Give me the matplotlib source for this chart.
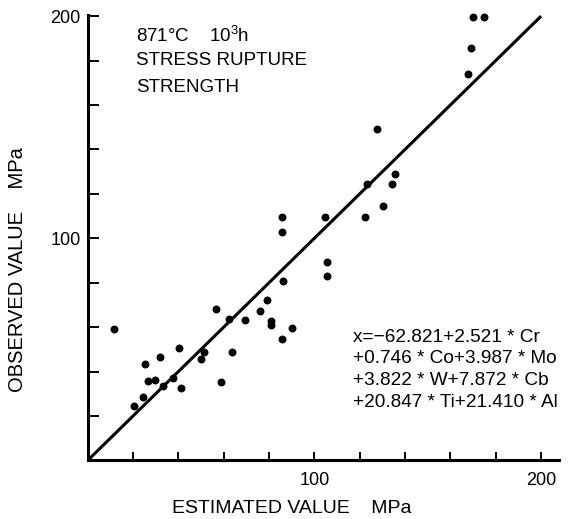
import matplotlib
matplotlib.use("Agg")
import matplotlib.pyplot as plt

plt.rcParams['font.family'] = ['Liberation Sans', 'DejaVu Sans']
plt.rcParams['mathtext.fontset'] = 'custom'
plt.rcParams['mathtext.rm'] = 'Liberation Sans'
plt.rcParams['mathtext.it'] = 'Liberation Sans'

# estimated vs observed stress rupture strength (MPa)
estimated = [170.0, 174.8, 169.2, 167.6, 127.7, 135.7, 123.1, 134.4, 130.3, 122.5,
             85.6, 85.8, 104.8, 105.4, 105.7, 86.1, 79.2, 76.0, 80.7, 80.7,
             90.3, 85.6, 11.8, 56.7, 62.2, 69.4, 40.3, 49.8, 51.4, 63.8,
             25.2, 32.0, 26.8, 29.8, 33.1, 37.5, 41.3, 58.7, 24.6, 20.2]
observed = [199.5, 199.5, 185.5, 174.1, 149.1, 129.1, 124.2, 124.2, 114.4, 109.6,
            109.4, 102.6, 109.4, 89.5, 82.9, 80.9, 72.0, 67.1, 62.7, 60.8,
            59.6, 54.8, 59.3, 68.0, 63.6, 63.0, 50.8, 45.8, 48.8, 48.6,
            43.2, 46.7, 35.7, 36.4, 33.7, 37.2, 32.5, 35.1, 28.5, 24.6]

fit_line = [0, 200]
tick_values = list(range(20, 201, 20))
tick_labels = ['' if v not in (100, 200) else str(v) for v in tick_values]

eq_lines = ['x=\u221262.821+2.521 * Cr',
            '+0.746 * Co+3.987 * Mo',
            '+3.822 * W+7.872 * Cb',
            '+20.847 * Ti+21.410 * Al']

fig = plt.figure(figsize=(5.84, 5.19), dpi=100)
ax = fig.add_axes([0.1502, 0.1129, 0.8074, 0.8582])

ax.plot(fit_line, fit_line, color='black', lw=2.2, solid_capstyle='butt')
ax.scatter(estimated, observed, s=22, color='black', zorder=3, clip_on=False)

ax.set_xlim(0, 208)
ax.set_ylim(0, 200.5)

for side in ['top', 'right']:
    ax.spines[side].set_visible(False)
for side in ['left', 'bottom']:
    ax.spines[side].set_linewidth(2.2)

ax.set_xticks(tick_values)
ax.set_xticklabels(tick_labels)
ax.set_yticks(tick_values)
ax.set_yticklabels(tick_labels)
ax.tick_params(axis='y', direction='in', length=8, width=1.4, pad=5, labelsize=13)
ax.tick_params(axis='x', direction='in', length=6, width=1.4, pad=8, labelsize=13)

ax.set_xlabel('ESTIMATED VALUE    MPa', fontsize=14, va='center')
ax.xaxis.set_label_coords(0.433, -0.108)
ax.set_ylabel('OBSERVED VALUE    MPa', fontsize=14.5, va='center')
ax.yaxis.set_label_coords(-0.148, 0.4275)

ax.text(0.102, 0.940, '871\u00b0C    10$^3$h', transform=ax.transAxes, fontsize=13.5, va='baseline')
ax.text(0.102, 0.888, 'STRESS RUPTURE', transform=ax.transAxes, fontsize=13.5, va='baseline')
ax.text(0.102, 0.828, 'STRENGTH', transform=ax.transAxes, fontsize=13.5, va='baseline')

for i, line in enumerate(eq_lines):
    ax.text(0.563, 0.2665 - i * 0.0487, line, transform=ax.transAxes,
            fontsize=13.7, va='baseline')

fig.savefig('out.png', dpi=100)
